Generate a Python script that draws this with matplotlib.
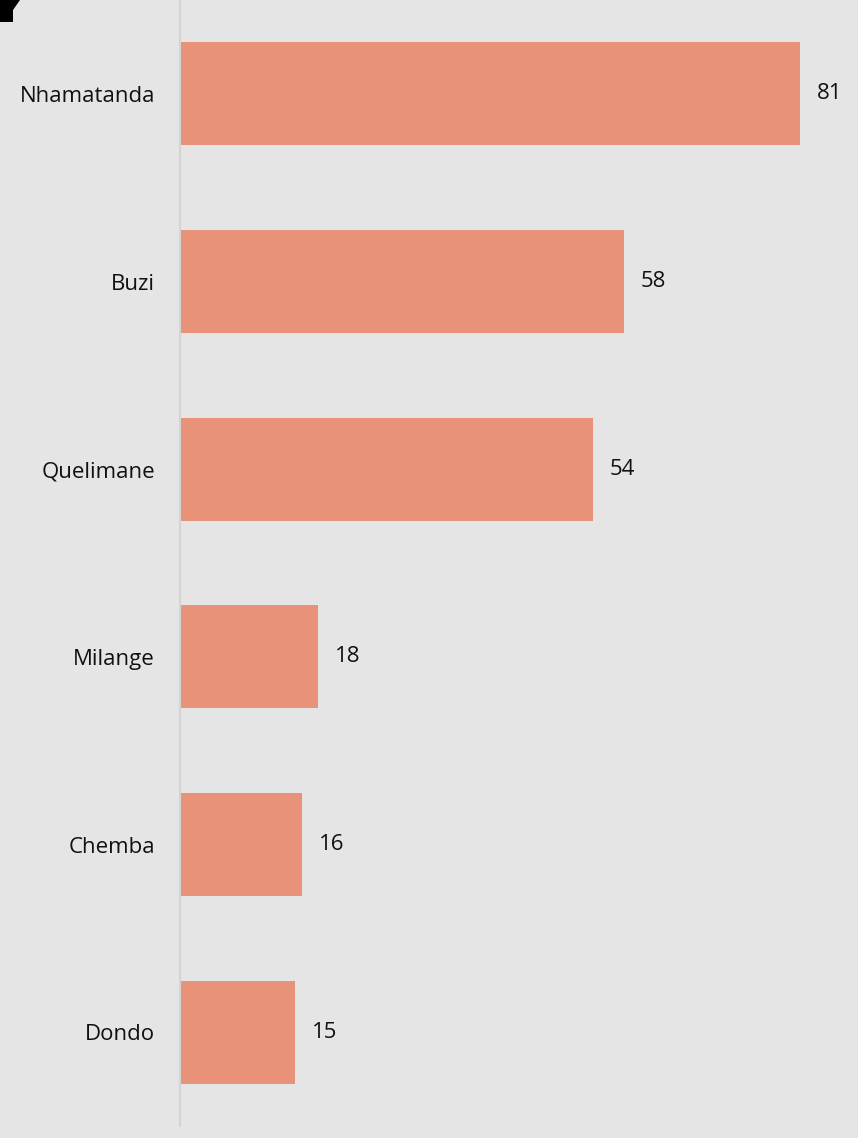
import matplotlib
matplotlib.use("Agg")
import matplotlib.pyplot as plt
from matplotlib.patches import Polygon

# data
districts = ["Nhamatanda", "Buzi", "Quelimane", "Milange", "Chemba", "Dondo"]
values = [81, 58, 54, 18, 16, 15]

bg = "#E5E5E5"
bar_color = "#E8927A"

plt.rcParams['font.family'] = ['Open Sans', 'DejaVu Sans']

W, H = 858, 1138
fig = plt.figure(figsize=(W / 100, H / 100), dpi=100, facecolor=bg)
ax = fig.add_axes([180 / W, 12 / H, 678 / W, 1126 / H], facecolor=bg)

ypos = list(range(len(districts)))
ax.barh(ypos, values, height=0.55, color=bar_color, zorder=2)

for y, v in zip(ypos, values):
    ax.annotate(str(v), (v, y), xytext=(12, 0), textcoords="offset points",
                va="center", ha="left", fontsize=16, color="#111111")

ax.set_xlim(0, 678 / (620 / 81))
ax.set_ylim(len(districts) - 0.5, -0.5)
ax.set_yticks(ypos)
ax.set_yticklabels(districts, fontsize=16, color="#111111")
ax.tick_params(axis="y", length=0, pad=18)
ax.set_xticks([])

for s in ["top", "right", "bottom"]:
    ax.spines[s].set_visible(False)
ax.spines["left"].set_color("#D4D4D4")
ax.spines["left"].set_linewidth(1.5)

# black corner mark at top-left
corner = Polygon([(0, 0), (20, 0), (13, 10), (13, 22), (0, 22)], closed=True,
                 facecolor="black", edgecolor="none")
corner.set_transform(matplotlib.transforms.Affine2D().scale(1 / W, -1 / H).translate(0, 1) + fig.transFigure)
fig.patches.append(corner)

fig.savefig("out.png", dpi=100, facecolor=bg)
